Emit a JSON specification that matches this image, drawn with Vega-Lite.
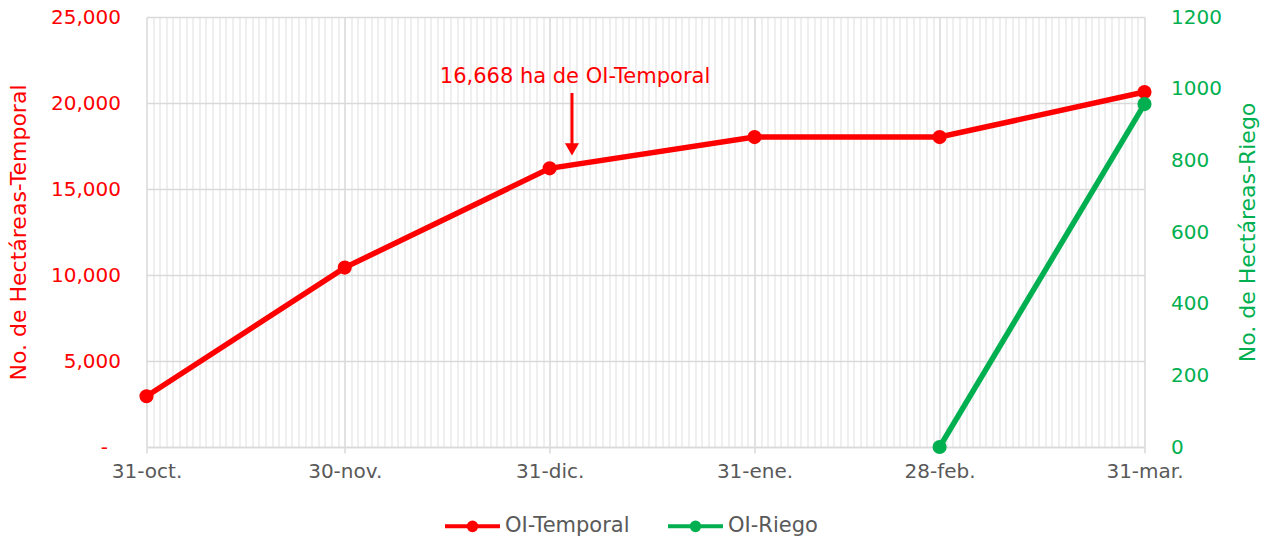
{
  "$schema": "https://vega.github.io/schema/vega-lite/v6.json",
  "width": 998,
  "height": 430,
  "autosize": {"type": "none"},
  "padding": {"left": 146.5, "top": 17, "right": 120.5, "bottom": 89},
  "config": {
    "font": "DejaVu Sans",
    "view": {"stroke": null},
    "axis": {"labelFont": "DejaVu Sans", "titleFont": "DejaVu Sans"}
  },
  "datasets": {
    "temporal": [
      {"fecha": "2022-10-31", "serie": "OI-Temporal", "ha": 2950},
      {"fecha": "2022-11-30", "serie": "OI-Temporal", "ha": 10430},
      {"fecha": "2022-12-31", "serie": "OI-Temporal", "ha": 16200},
      {"fecha": "2023-01-31", "serie": "OI-Temporal", "ha": 18020},
      {"fecha": "2023-02-28", "serie": "OI-Temporal", "ha": 18020},
      {"fecha": "2023-03-31", "serie": "OI-Temporal", "ha": 20640}
    ],
    "riego": [
      {"fecha": "2023-02-28", "serie": "OI-Riego", "ha": 0},
      {"fecha": "2023-03-31", "serie": "OI-Riego", "ha": 957}
    ],
    "nota": [
      {"texto": "16,668 ha de OI-Temporal"}
    ]
  },
  "layer": [
    {
      "layer": [
        {
          "data": {"name": "temporal"},
          "mark": {"type": "line", "strokeWidth": 5.5},
          "encoding": {
            "x": {
              "field": "fecha",
              "type": "temporal",
              "title": null,
              "scale": {
                "type": "utc",
                "nice": false,
                "domain": [
                  {"year": 2022, "month": 10, "date": 31, "utc": true},
                  {"year": 2023, "month": 3, "date": 31, "utc": true}
                ]
              },
              "axis": {
                "orient": "bottom",
                "tickCount": {"interval": "day", "step": 1},
                "grid": true,
                "gridColor": {"condition": {"test": "utcdate(time(datum.value) + 86400000) == 1", "value": "#d9d9d9"}, "value": "#efefef"},
                "gridWidth": {"condition": {"test": "utcdate(time(datum.value) + 86400000) == 1", "value": 1.5}, "value": 2},
                "domain": true,
                "domainColor": "#d9d9d9",
                "domainWidth": 1.5,
                "ticks": true,
                "tickSize": 6,
                "tickWidth": 1.5,
                "tickColor": {"condition": {"test": "utcdate(time(datum.value) + 86400000) == 1", "value": "#d9d9d9"}, "value": "transparent"},
                "labelExpr": "utcdate(time(datum.value) + 86400000) == 1 ? utcFormat(datum.value, '%d') + '-' + ['ene.','feb.','mar.','abr.','may.','jun.','jul.','ago.','sep.','oct.','nov.','dic.'][utcmonth(datum.value)] : ''",
                "labelOverlap": false,
                "labelFlush": false,
                "labelFontSize": 20,
                "labelColor": "#595959",
                "labelPadding": 8,
                "labelBaseline": "top"
              }
            },
            "y": {
              "field": "ha",
              "type": "quantitative",
              "title": "No. de Hectáreas-Temporal",
              "scale": {"domain": [0, 25000], "nice": false},
              "axis": {
                "orient": "left",
                "values": [0, 5000, 10000, 15000, 20000, 25000],
                "grid": true,
                "gridColor": "#d9d9d9",
                "gridWidth": 1.5,
                "domain": false,
                "ticks": false,
                "labelColor": "#ff0000",
                "labelFontSize": 20,
                "labelPadding": {"condition": {"test": "datum.value == 0", "value": 39}, "value": 26},
                "labelExpr": "datum.value == 0 ? '-' : format(datum.value, ',')",
                "title": "No. de Hectáreas-Temporal",
                "titleColor": "#ff0000",
                "titleFontSize": 22,
                "titleFontWeight": "normal",
                "titleAngle": 270,
                "titleBaseline": "middle",
                "titleX": -128.5,
                "titleY": 215
              }
            },
            "color": {
              "field": "serie",
              "type": "nominal",
              "scale": {"domain": ["OI-Temporal", "OI-Riego"], "range": ["#ff0000", "#00b050"]},
              "legend": {
                "title": null,
                "orient": "none",
                "direction": "horizontal",
                "legendX": 296.5,
                "legendY": 479.5,
                "padding": 0,
                "symbolType": "M-1,0H1M0.14,0A0.14,0.14,0,1,1,-0.14,0A0.14,0.14,0,1,1,0.14,0Z",
                "symbolSize": 3025,
                "symbolStrokeWidth": 4,
                "labelFontSize": 21,
                "labelColor": "#595959",
                "labelOffset": 3,
                "columnPadding": 30,
                "encode": {
                  "symbols": {
                    "update": {
                      "fill": {"scale": "color", "field": "value"},
                      "stroke": {"scale": "color", "field": "value"},
                      "opacity": {"value": 1}
                    }
                  }
                }
              }
            }
          }
        },
        {
          "data": {"name": "temporal"},
          "mark": {"type": "point", "filled": true, "size": 200, "opacity": 1},
          "encoding": {
            "x": {"field": "fecha", "type": "temporal", "title": null},
            "y": {"field": "ha", "type": "quantitative", "title": "No. de Hectáreas-Temporal"},
            "color": {"field": "serie", "type": "nominal"}
          }
        },
        {
          "data": {"name": "nota"},
          "mark": {"type": "text", "fontSize": 21, "color": "#ff0000", "align": "center", "baseline": "middle"},
          "encoding": {
            "x": {"datum": {"year": 2023, "month": 1, "date": 3, "hours": 20, "utc": true}, "type": "temporal", "title": null},
            "y": {"datum": 21500, "type": "quantitative"},
            "text": {"field": "texto"}
          }
        },
        {
          "data": {"name": "nota"},
          "mark": {"type": "rule", "strokeWidth": 3, "color": "#ff0000"},
          "encoding": {
            "x": {"datum": {"year": 2023, "month": 1, "date": 3, "hours": 9, "utc": true}, "type": "temporal", "title": null},
            "y": {"datum": 20580, "type": "quantitative"},
            "y2": {"datum": 17600}
          }
        },
        {
          "data": {"name": "nota"},
          "mark": {"type": "point", "shape": "triangle-down", "filled": true, "size": 200, "color": "#ff0000", "opacity": 1},
          "encoding": {
            "x": {"datum": {"year": 2023, "month": 1, "date": 3, "hours": 9, "utc": true}, "type": "temporal", "title": null},
            "y": {"datum": 17300, "type": "quantitative"}
          }
        }
      ]
    },
    {
      "layer": [
        {
          "data": {"name": "riego"},
          "mark": {"type": "line", "strokeWidth": 5.5},
          "encoding": {
            "x": {"field": "fecha", "type": "temporal", "title": null},
            "y": {
              "field": "ha",
              "type": "quantitative",
              "title": "No. de Hectáreas-Riego",
              "scale": {"domain": [0, 1200], "nice": false},
              "axis": {
                "orient": "right",
                "values": [0, 200, 400, 600, 800, 1000, 1200],
                "format": "d",
                "grid": false,
                "domain": false,
                "ticks": false,
                "labelColor": "#00b050",
                "labelFontSize": 20,
                "labelPadding": 26,
                "title": "No. de Hectáreas-Riego",
                "titleColor": "#00b050",
                "titleFontSize": 22,
                "titleFontWeight": "normal",
                "titleAngle": 270,
                "titleBaseline": "middle",
                "titleX": 102.5,
                "titleY": 215
              }
            },
            "color": {"field": "serie", "type": "nominal"}
          }
        },
        {
          "data": {"name": "riego"},
          "mark": {"type": "point", "filled": true, "size": 200, "opacity": 1},
          "encoding": {
            "x": {"field": "fecha", "type": "temporal", "title": null},
            "y": {"field": "ha", "type": "quantitative", "title": "No. de Hectáreas-Riego"},
            "color": {"field": "serie", "type": "nominal"}
          }
        }
      ]
    }
  ],
  "resolve": {"scale": {"y": "independent"}, "axis": {"y": "independent"}}
}
